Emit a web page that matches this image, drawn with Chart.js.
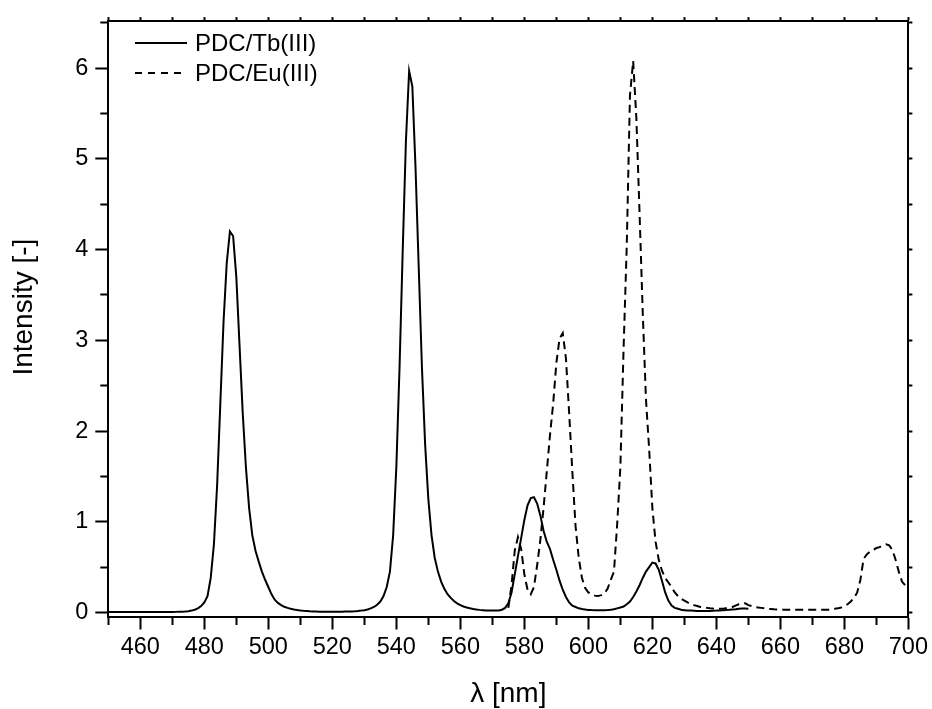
<!DOCTYPE html>
<html>
<head>
<meta charset="utf-8">
<title>PDC/Tb(III) and PDC/Eu(III) emission</title>
<script src="https://cdn.jsdelivr.net/npm/chart.js@4.4.1/dist/chart.umd.min.js"></script>
<style>
  html, body { margin: 0; padding: 0; background: #fff; }
  #wrap { width: 932px; height: 709px; }
</style>
</head>
<body>
<div id="wrap"><canvas id="chart" width="932" height="709"></canvas></div>
<script>
// wavelengths in nm, intensities
const tbWavelength = [
  450,451,452,453,454,455,456,457,458,459,
  460,461,462,463,464,465,466,467,468,469,
  470,471,472,473,474,475,476,477,478,479,
  480,481,482,483,484,485,486,487,488,489,
  490,491,492,493,494,495,496,497,498,499,
  500,501,502,503,504,505,506,507,508,509,
  510,511,512,513,514,515,516,517,518,519,
  520,521,522,523,524,525,526,527,528,529,
  530,531,532,533,534,535,536,537,538,539,
  540,541,542,543,544,545,546,547,548,549,
  550,551,552,553,554,555,556,557,558,559,
  560,561,562,563,564,565,566,567,568,569,
  570,571,572,573,574,575,576,577,578,579,
  580,581,582,583,584,585,586,587,588,589,
  590,591,592,593,594,595,596,597,598,599,
  600,601,602,603,604,605,606,607,608,609,
  610,611,612,613,614,615,616,617,618,619,
  620,621,622,623,624,625,626,627,628,629,
  630,631,632,633,634,635,636,637,638,639,
  640,641,642,643,644,645,646,647,648,649,
  650
];
const tbIntensity = [
  0.004,0.004,0.004,0.004,0.004,0.004,0.004,0.004,0.004,0.004,
  0.004,0.004,0.004,0.004,0.004,0.004,0.004,0.004,0.005,0.005,
  0.005,0.006,0.007,0.008,0.010,0.014,0.020,0.030,0.045,0.070,
  0.110,0.180,0.380,0.750,1.400,2.300,3.200,3.850,4.200,4.150,
  3.700,2.950,2.200,1.600,1.150,0.850,0.680,0.560,0.450,0.360,
  0.280,0.200,0.140,0.105,0.080,0.062,0.050,0.040,0.033,0.027,
  0.022,0.018,0.015,0.012,0.010,0.009,0.008,0.008,0.008,0.008,
  0.008,0.008,0.008,0.008,0.009,0.010,0.011,0.013,0.016,0.020,
  0.025,0.033,0.045,0.060,0.085,0.120,0.180,0.280,0.450,0.850,
  1.600,2.700,4.000,5.200,5.970,5.800,4.900,3.800,2.700,1.850,
  1.250,0.850,0.600,0.450,0.340,0.260,0.200,0.160,0.125,0.100,
  0.080,0.065,0.054,0.045,0.038,0.032,0.028,0.025,0.022,0.020,
  0.020,0.020,0.022,0.030,0.050,0.100,0.220,0.420,0.620,0.820,
  1.020,1.180,1.260,1.270,1.200,1.070,0.900,0.780,0.700,0.580,
  0.470,0.350,0.250,0.170,0.110,0.075,0.060,0.045,0.038,0.032,
  0.028,0.026,0.025,0.025,0.025,0.025,0.026,0.030,0.035,0.045,
  0.055,0.065,0.090,0.120,0.170,0.230,0.300,0.380,0.450,0.500,
  0.550,0.540,0.470,0.350,0.220,0.130,0.075,0.050,0.040,0.030,
  0.025,0.020,0.020,0.018,0.016,0.015,0.015,0.016,0.017,0.019,
  0.020,0.022,0.025,0.028,0.030,0.033,0.036,0.040,0.042,0.043,
  0.040
];

const euWavelength = [
  575,576,577,578,579,
  580,581,582,583,584,585,586,587,588,589,
  590,591,592,593,594,595,596,597,598,599,
  600,601,602,603,604,605,606,607,608,609,
  610,611,612,613,614,615,616,617,618,619,
  620,621,622,623,624,625,626,627,628,629,
  630,631,632,633,634,635,636,637,638,639,
  640,641,642,643,644,645,646,647,648,649,
  650,651,652,653,654,655,656,657,658,659,
  660,661,662,663,664,665,666,667,668,669,
  670,671,672,673,674,675,676,677,678,679,
  680,681,682,683,684,685,686,687,688,689,
  690,691,692,693,694,695,696,697,698,699,
  700
];
const euIntensity = [
  0.050,0.300,0.680,0.830,0.700,
  0.420,0.250,0.200,0.280,0.520,0.800,1.150,1.550,1.950,2.300,
  2.750,3.020,3.080,2.800,2.200,1.550,0.950,0.600,0.380,0.270,
  0.220,0.200,0.185,0.180,0.190,0.210,0.260,0.360,0.450,0.970,
  1.600,2.900,4.050,5.700,6.080,5.450,4.400,3.300,2.350,1.800,
  1.150,0.780,0.580,0.460,0.380,0.330,0.280,0.220,0.180,0.150,
  0.130,0.110,0.095,0.080,0.070,0.060,0.055,0.050,0.045,0.042,
  0.040,0.040,0.040,0.045,0.050,0.060,0.075,0.090,0.100,0.100,
  0.080,0.070,0.060,0.055,0.050,0.045,0.040,0.038,0.035,0.033,
  0.032,0.030,0.030,0.030,0.030,0.030,0.030,0.030,0.030,0.030,
  0.030,0.030,0.030,0.030,0.030,0.030,0.035,0.040,0.045,0.055,
  0.070,0.090,0.120,0.160,0.220,0.360,0.590,0.640,0.670,0.690,
  0.710,0.720,0.740,0.750,0.740,0.690,0.580,0.450,0.340,0.300,
  0.270
];

const seriesNames = ["PDC/Tb(III)", "PDC/Eu(III)"];
const xLabels = [460, 480, 500, 520, 540, 560, 580, 600, 620, 640, 660, 680, 700];
const yLabels = [0, 1, 2, 3, 4, 5, 6];

Chart.defaults.font.family = '"Liberation Sans", Arial, Helvetica, sans-serif';
Chart.defaults.color = "#000";

function points(xs, ys) {
  return xs.map((x, i) => ({ x, y: ys[i] }));
}

function isMajor(ctx, labels) {
  return ctx.tick ? labels.includes(ctx.tick.value) : true;
}

// legend sits inside the plot, top left
const insideLegend = {
  id: "insideLegend",
  afterDraw(chart) {
    const ctx = chart.ctx;
    ctx.save();
    ctx.font = '24px "Liberation Sans", Arial, sans-serif';
    ctx.fillStyle = "#000";
    ctx.strokeStyle = "#000";
    ctx.lineWidth = 2;
    ctx.textBaseline = "middle";
    chart.data.datasets.forEach((ds, i) => {
      const y = 43 + i * 30;
      ctx.setLineDash(ds.borderDash ? [7, 6] : []);
      ctx.beginPath();
      ctx.moveTo(135, y);
      ctx.lineTo(187, y);
      ctx.stroke();
      ctx.fillText(ds.label, 195, y + 1.5);
    });
    ctx.restore();
  }
};

const border = { display: true, color: "#000", width: 2 };

new Chart(document.getElementById("chart"), {
  type: "line",
  data: {
    datasets: [
      {
        label: seriesNames[0],
        data: points(tbWavelength, tbIntensity),
        xAxisID: "x", yAxisID: "y",
        borderColor: "#000", borderWidth: 2,
        pointRadius: 0, tension: 0, fill: false
      },
      {
        label: seriesNames[1],
        data: points(euWavelength, euIntensity),
        xAxisID: "x", yAxisID: "y",
        borderColor: "#000", borderWidth: 2, borderDash: [8, 5],
        pointRadius: 0, tension: 0, fill: false
      }
    ]
  },
  options: {
    responsive: false,
    animation: false,
    devicePixelRatio: 1,
    layout: { padding: 0 },
    plugins: { legend: { display: false }, tooltip: { enabled: false } },
    scales: {
      x: {
        type: "linear", position: "bottom", min: 450, max: 700,
        afterFit: s => { s.height = 92.5; },
        ticks: {
          stepSize: 10, autoSkip: false, minRotation: 0, maxRotation: 0, padding: 4,
          color: "#000", font: { size: 23.5 },
          callback: v => xLabels.includes(v) ? String(v) : ""
        },
        grid: {
          drawOnChartArea: false, tickLength: 13, tickWidth: 2, tickColor: "#000",
          tickBorderDash: c => isMajor(c, xLabels) ? [] : [7, 100]
        },
        border,
        title: { display: true, text: "λ [nm]", color: "#000", font: { size: 28 }, padding: { top: 0, bottom: -2 } }
      },
      y: {
        type: "linear", position: "left", min: -0.045, max: 6.52,
        afterFit: s => { s.width = 108.3; },
        ticks: {
          stepSize: 0.5, includeBounds: false, padding: 7,
          color: "#000", font: { size: 23.5 },
          callback: v => yLabels.includes(v) ? String(v) : ""
        },
        grid: {
          drawOnChartArea: false, tickLength: 13, tickWidth: 2, tickColor: "#000",
          tickBorderDash: c => isMajor(c, yLabels) ? [] : [7, 100],
          tickBorderDashOffset: c => isMajor(c, yLabels) ? 0 : 102
        },
        border,
        title: { display: true, text: "   Intensity [-]", color: "#000", font: { size: 28 }, padding: { top: 7, bottom: 0 } }
      },
      xTop: {
        type: "linear", position: "top", min: 450, max: 700,
        afterFit: s => { s.height = 12.3; },
        ticks: { display: false, stepSize: 10 },
        grid: { drawOnChartArea: false, tickLength: 4, tickWidth: 2, tickColor: "#000" },
        border
      },
      yRight: {
        type: "linear", position: "right", min: -0.045, max: 6.52,
        afterFit: s => { s.width = 22.5; },
        ticks: { display: false, stepSize: 0.5, includeBounds: false },
        grid: { drawOnChartArea: false, tickLength: 4, tickWidth: 2, tickColor: "#000" },
        border
      }
    }
  },
  plugins: [insideLegend]
});
</script>
</body>
</html>
